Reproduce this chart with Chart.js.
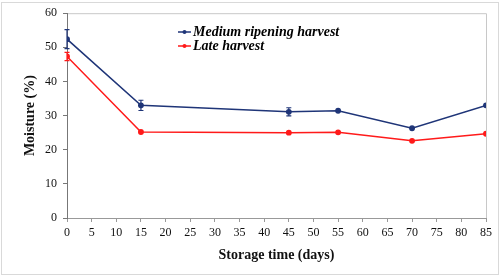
<!DOCTYPE html>
<html>
<head>
<meta charset="utf-8">
<script src="https://cdn.jsdelivr.net/npm/chart.js@4.4.1/dist/chart.umd.min.js"></script>
<style>
  html, body { margin: 0; padding: 0; background: #fff; }
  #wrap { width: 500px; height: 278px; position: relative; }
</style>
</head>
<body>
<div id="wrap"><canvas id="moistureChart"></canvas></div>
<script>
// storage days
const days = [0, 15, 45, 55, 70, 85];
// moisture values (%)
const mediumHarvest = [52.4, 33.0, 31.1, 31.4, 26.3, 33.0];
const lateHarvest = [47.3, 25.2, 25.0, 25.1, 22.6, 24.7];
// error bars (+/-)
const mediumErr = [2.8, 1.5, 1.2, 0, 0, 0];
const lateErr = [1.2, 0, 0, 0, 0, 0];

const serif = "'Liberation Serif', 'Times New Roman', serif";

const toPoints = (vals) => days.map((d, i) => ({ x: d, y: vals[i] }));

// fondo blanco + marco exterior
const framePlugin = {
    id: 'frame',
    beforeDraw(chart) {
        const c = chart.ctx;
        c.save();
        c.fillStyle = '#fff';
        c.fillRect(0, 0, chart.width, chart.height);
        c.strokeStyle = '#d9d9d9';
        c.lineWidth = 1;
        c.strokeRect(1.5, 2.5, chart.width - 3, chart.height - 6);
        // top + right border of plot area
        const a = chart.chartArea;
        c.strokeStyle = '#c8c8c8';
        c.beginPath();
        c.moveTo(a.left, a.top + 0.5);
        c.lineTo(a.right + 0.5, a.top + 0.5);
        c.lineTo(a.right + 0.5, a.bottom);
        c.stroke();
        c.restore();
    }
};

// barras de error
const errorBarPlugin = {
    id: 'errorBars',
    afterDatasetsDraw(chart) {
        const c = chart.ctx;
        const xs = chart.scales.x, ys = chart.scales.y;
        chart.data.datasets.forEach((ds) => {
            if (!ds.errors) return;
            c.save();
            c.strokeStyle = ds.borderColor;
            c.lineWidth = 1.2;
            ds.data.forEach((p, i) => {
                const e = ds.errors[i];
                if (!e) return;
                const px = xs.getPixelForValue(p.x);
                const top = ys.getPixelForValue(p.y + e);
                const bot = ys.getPixelForValue(p.y - e);
                c.beginPath();
                c.moveTo(px, top); c.lineTo(px, bot);
                c.moveTo(px - 2.5, top); c.lineTo(px + 2.5, top);
                c.moveTo(px - 2.5, bot); c.lineTo(px + 2.5, bot);
                c.stroke();
            });
            c.restore();
        });
    }
};

// leyenda dentro del gráfico
const legendPlugin = {
    id: 'innerLegend',
    afterDraw(chart) {
        const c = chart.ctx;
        const x0 = 178, y0 = 32, gap = 14;
        c.save();
        c.font = "italic bold 14px " + serif;
        c.textBaseline = 'middle';
        chart.data.datasets.forEach((ds, i) => {
            const y = y0 + i * gap;
            c.strokeStyle = ds.borderColor;
            c.fillStyle = ds.borderColor;
            c.lineWidth = 1.5;
            c.beginPath();
            c.moveTo(x0, y); c.lineTo(x0 + 13, y);
            c.stroke();
            c.beginPath();
            c.arc(x0 + 6.5, y, 2, 0, Math.PI * 2);
            c.fill();
            c.fillStyle = '#000';
            c.fillText(ds.label, x0 + 15, y);
        });
        c.restore();
    }
};

const ctx = document.getElementById('moistureChart').getContext('2d');
const chart = new Chart(ctx, {
    type: 'line',
    data: {
        datasets: [{
            label: 'Medium ripening harvest',
            data: toPoints(mediumHarvest),
            errors: mediumErr,
            borderColor: '#1f3578',
            backgroundColor: '#1f3578',
            borderWidth: 1.5,
            pointRadius: 2.2,
            tension: 0
        }, {
            label: 'Late harvest',
            data: toPoints(lateHarvest),
            errors: lateErr,
            borderColor: '#ff1a1a',
            backgroundColor: '#ff1a1a',
            borderWidth: 1.5,
            pointRadius: 2.2,
            tension: 0
        }]
    },
    options: {
        responsive: true,
        maintainAspectRatio: false,
        animation: false,
        layout: { padding: { left: 18, right: 14, top: 7, bottom: 10 } },
        plugins: {
            legend: { display: false },
            tooltip: { enabled: false }
        },
        scales: {
            x: {
                type: 'linear',
                min: 0,
                max: 85,
                ticks: {
                    stepSize: 5,
                    color: '#111',
                    padding: 4,
                    maxRotation: 0,
                    font: { family: serif, size: 12 }
                },
                grid: { drawOnChartArea: false, color: '#999', tickLength: 4 },
                border: { color: '#999' },
                title: {
                    display: true,
                    text: 'Storage time (days)',
                    color: '#111',
                    padding: { top: 2, bottom: 4 },
                    font: { family: serif, size: 14, weight: 'bold' }
                },
                afterFit: (scale) => { scale.height = 50; }
            },
            y: {
                min: 0,
                max: 60,
                ticks: {
                    stepSize: 10,
                    color: '#111',
                    padding: 6,
                    font: { family: serif, size: 12 }
                },
                grid: { drawOnChartArea: false, color: '#777', tickLength: 4 },
                border: { color: '#777' },
                title: {
                    display: true,
                    text: 'Moisture (%)',
                    color: '#111',
                    padding: { top: 4, bottom: 2 },
                    font: { family: serif, size: 14, weight: 'bold' }
                },
                afterFit: (scale) => { scale.width = 49; }
            }
        }
    },
    plugins: [framePlugin, errorBarPlugin, legendPlugin]
});
</script>
</body>
</html>
